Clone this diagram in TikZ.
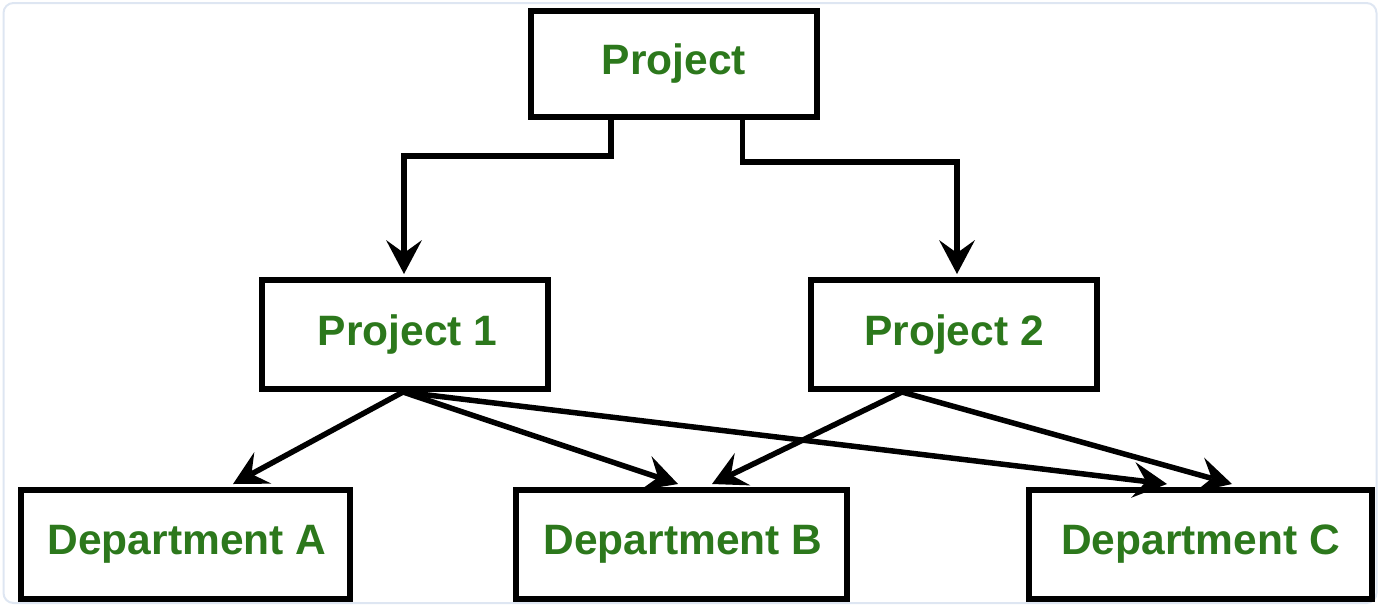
\documentclass[tikz,border=0pt]{standalone}
\usepackage{fontspec}
\setmainfont{Liberation Sans}
\usetikzlibrary{arrows.meta}
\definecolor{txtgreen}{RGB}{44,120,28}
\definecolor{framecol}{RGB}{222,230,242}
\tikzset{
  box/.style={draw=black, line width=6pt, rectangle, inner sep=0pt, fill=white,
    text=txtgreen, font=\fontsize{42.5}{50}\selectfont\bfseries},
  conn/.style={line width=5.5pt, draw=black,
    -{Stealth[length=34pt,width=36pt,inset=13pt,line width=0pt]}},
}
\begin{document}
\begin{tikzpicture}[x=1pt,y=-1pt]
\useasboundingbox (0,0) rectangle (1380,606);
\draw[framecol, line width=2pt, rounded corners=10pt] (3.5,3) rectangle (1376.5,603);

\node[box, minimum width=286pt, minimum height=106pt] (proj) at (674,64) {Project};
\node[box, minimum width=286pt, minimum height=109pt] (p1) at (405,334.5) {\hspace{5pt}Project 1};
\node[box, minimum width=286pt, minimum height=109pt] (p2) at (954,334.5) {Project 2};
\node[box, minimum width=329pt, minimum height=109pt] (da) at (185.5,544.5) {\hspace{3pt}Department A};
\node[box, minimum width=331pt, minimum height=109pt] (db) at (681.5,544.5) {\hspace{3pt}Department B};
\node[box, minimum width=343pt, minimum height=109pt] (dc) at (1200.5,544.5) {Department C};

\draw[conn] ([xshift=-63pt]proj.south) -- ++(0,36) -| ([xshift=-1pt,yshift=3pt]p1.north);
\draw[conn] ([xshift=68.5pt]proj.south) -- ++(0,42) -| ([xshift=3pt,yshift=3pt]p2.north);

\draw[conn] ([xshift=-2pt]p1.south) -- ([xshift=47.5pt,yshift=3pt]da.north);
\draw[conn] ([xshift=-2pt]p1.south) -- ([xshift=-3.5pt,yshift=3pt]db.north);
\draw[conn] ([xshift=-2pt]p1.south) -- ([xshift=-33.5pt,yshift=3pt]dc.north);
\draw[conn] ([xshift=-52pt]p2.south) -- ([xshift=30.5pt,yshift=3pt]db.north);
\draw[conn] ([xshift=-52pt]p2.south) -- ([xshift=31.5pt,yshift=3pt]dc.north);
\end{tikzpicture}
\end{document}
